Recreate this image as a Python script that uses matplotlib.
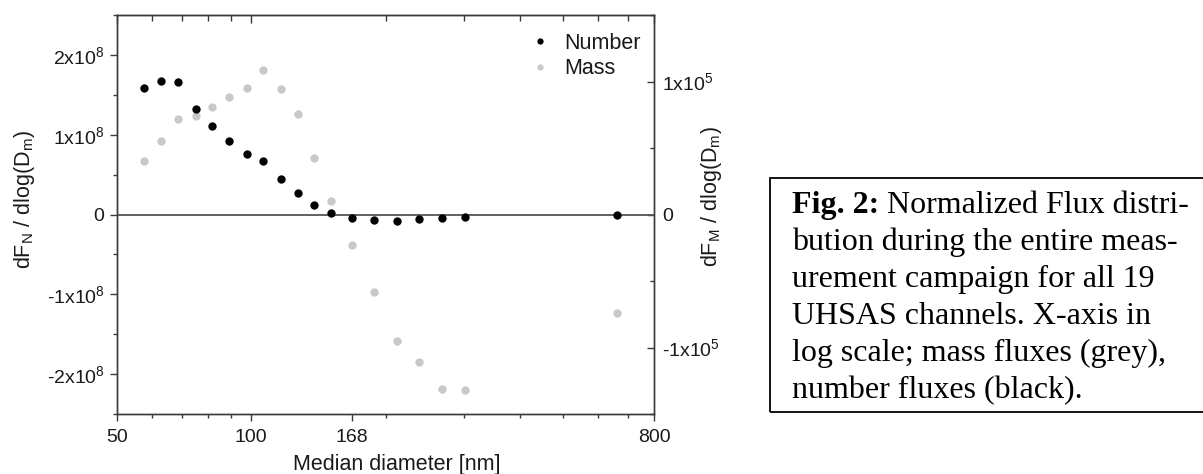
import matplotlib
matplotlib.use('Agg')
import matplotlib.pyplot as plt
from matplotlib.patches import Rectangle
from matplotlib.ticker import FixedLocator, FixedFormatter, MultipleLocator, NullFormatter

# 19 UHSAS channels, median diameter [nm]
diam = [57.5, 62.9, 68.6, 75.0, 81.8, 89.3, 97.7, 106.4, 116.4, 127.2,
        138.5, 151.2, 168.0, 188.7, 212.3, 238.2, 267.7, 301.4, 659.6]
number_flux = [1.59e8, 1.675e8, 1.66e8, 1.316e8, 1.104e8, 0.916e8, 0.7625e8, 0.666e8,
               0.446e8, 0.271e8, 0.116e8, 0.02e8, -0.04e8, -0.07e8, -0.08e8,
               -0.0625e8, -0.05e8, -0.0375e8, 0.0]
mass_flux = [0.404e5, 0.556e5, 0.72e5, 0.742e5, 0.812e5, 0.88e5, 0.95e5, 1.083e5,
             0.94e5, 0.757e5, 0.423e5, 0.098e5, -0.233e5, -0.579e5, -0.95e5,
             -1.108e5, -1.311e5, -1.323e5, -0.737e5]

x_major = [50, 100, 168, 800]
x_major_labels = ['50', '100', '168', '800']
x_minor = [60, 70, 80, 90, 200, 300, 400, 500, 600, 700]
top_major = [50, 100, 800]

left_ticks = [-2e8, -1e8, 0, 1e8, 2e8]
left_labels = ['-2x10$^8$', '-1x10$^8$', '0', '1x10$^8$', '2x10$^8$']
right_ticks = [-1e5, 0, 1e5]
right_labels = ['-1x10$^5$', '0', '1x10$^5$']

caption_lines = ['Normalized Flux distri-',
                 'bution during the entire meas-',
                 'urement campaign for all 19',
                 'UHSAS channels. X-axis in',
                 'log scale; mass fluxes (grey),',
                 'number fluxes (black).']

plt.rcParams['font.family'] = ['Liberation Sans', 'DejaVu Sans']
plt.rcParams['mathtext.default'] = 'regular'

W, H = 1203, 474
fig = plt.figure(figsize=(W / 100, H / 100), dpi=100)
L, R, T, B = 117, 654, 15, 414
ax = fig.add_axes([L / W, 1 - B / H, (R - L) / W, (B - T) / H])
ax2 = ax.twinx()

spine_c = '#3a3a3a'
txt_c = '#1a1a1a'

ax.axhline(0, color='#555555', lw=1.3, zorder=1)
ax.plot(diam, number_flux, 'o', color='black', ms=6, mec='none', label='Number', zorder=3)
ax2.plot(diam, mass_flux, 'o', color='#c8c8c8', ms=6, mec='none', label='Mass', zorder=2)

ax.set_xscale('log')
ax.set_xlim(50, 800)
ax.set_ylim(-2.5e8, 2.5e8)
ax2.set_ylim(-1.5e5, 1.5e5)

ax.xaxis.set_major_locator(FixedLocator(x_major))
ax.xaxis.set_major_formatter(FixedFormatter(x_major_labels))
ax.xaxis.set_minor_locator(FixedLocator(x_minor))
ax.xaxis.set_minor_formatter(NullFormatter())

ax.yaxis.set_major_locator(FixedLocator(left_ticks))
ax.yaxis.set_major_formatter(FixedFormatter(left_labels))
ax.yaxis.set_minor_locator(MultipleLocator(0.5e8))
ax2.yaxis.set_major_locator(FixedLocator(right_ticks))
ax2.yaxis.set_major_formatter(FixedFormatter(right_labels))
ax2.yaxis.set_minor_locator(MultipleLocator(0.5e5))

ax.tick_params(which='both', direction='out', colors=spine_c, labelcolor=txt_c,
               labelsize=14, width=1.0, top=False, right=False)
ax.tick_params(which='major', length=5, pad=4)
ax.tick_params(axis='x', which='major', pad=6)
ax.tick_params(which='minor', length=3)
ax2.tick_params(which='both', direction='in', colors=spine_c, labelcolor=txt_c,
                labelsize=14, width=1.0)
ax2.tick_params(which='major', length=5, pad=6)
ax2.tick_params(which='minor', length=3)

top = ax.secondary_xaxis('top')
top.set_xticks(top_major)
top.set_xticks(x_minor, minor=True)
top.tick_params(which='both', direction='in', colors=spine_c, width=1.0,
                labeltop=False)
top.tick_params(which='major', length=6)
top.tick_params(which='minor', length=4)
top.xaxis.set_major_formatter(NullFormatter())
top.xaxis.set_minor_formatter(NullFormatter())

for a in (ax, ax2):
    for s in a.spines.values():
        s.set_color(spine_c)
        s.set_linewidth(1.0)
top.spines['top'].set_color(spine_c)

ax.set_xlabel('Median diameter [nm]', fontsize=15.5, color=txt_c)
ax.xaxis.set_label_coords((397 - L) / (R - L), (B - 454) / (B - T))
ax.set_ylabel('dF$_N$ / dlog(D$_m$)', fontsize=15.5, color=txt_c)
ax.yaxis.set_label_coords((37 - L) / (R - L), (B - 199) / (B - T))
ax2.set_ylabel('dF$_M$ / dlog(D$_m$)', fontsize=15.5, color=txt_c)
ax2.yaxis.set_label_coords((699 - L) / (R - L), (B - 197) / (B - T))

# black points above grey ones
ax.set_zorder(ax2.get_zorder() + 1)
ax.patch.set_visible(False)

h1, l1 = ax.get_legend_handles_labels()
h2, l2 = ax2.get_legend_handles_labels()
ax.legend(h1 + h2, l1 + l2, loc='upper left', frameon=False, fontsize=15.5,
          bbox_to_anchor=((529 - L) / (R - L), (B - 33) / (B - T)),
          borderaxespad=0, borderpad=0, handlelength=1.0, handletextpad=0.65,
          labelspacing=0.2, markerscale=0.75, labelcolor=txt_c)

# caption box
fig.add_artist(Rectangle((770 / W, 1 - 412 / H), (1220 - 770) / W, (412 - 178) / H,
                         transform=fig.transFigure, fill=False, ec='black', lw=1.3))
cap_font = dict(family=['Liberation Serif', 'DejaVu Serif'], size=23, color='black')
x0 = 792
baselines = [213, 250, 287, 324, 361, 398]
bold = fig.text(x0 / W, 1 - baselines[0] / H, 'Fig. 2:', va='baseline',
                fontweight='bold', **cap_font)
fig.canvas.draw()
bw = bold.get_window_extent().width
fig.text((x0 + bw) / W, 1 - baselines[0] / H, ' ' + caption_lines[0],
         va='baseline', **cap_font)
for yb, line in zip(baselines[1:], caption_lines[1:]):
    fig.text(x0 / W, 1 - yb / H, line, va='baseline', **cap_font)

fig.savefig('out.png', dpi=100)
